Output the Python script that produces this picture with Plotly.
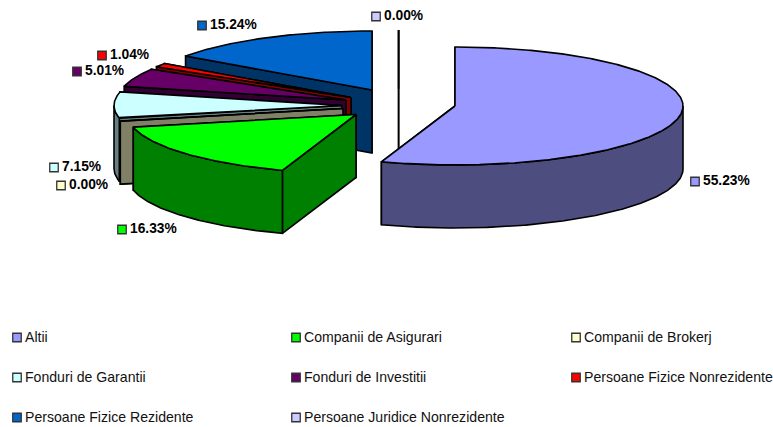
import numpy as np
import plotly.graph_objects as go

categories = ["Altii", "Companii de Asigurari", "Companii de Brokerj", "Fonduri de Garantii",
              "Fonduri de Investitii", "Persoane Fizice Nonrezidente",
              "Persoane Fizice Rezidente", "Persoane Juridice Nonrezidente"]
values = [55.23, 16.33, 0.00, 7.15, 5.01, 1.04, 15.24, 0.00]
top_colors = ["#9999FF", "#00FF00", "#FFFFCC", "#CCFFFF", "#660066", "#FF0000", "#0066CC", "#CCCCFF"]
side_colors = ["#4D4D80", "#008000", "#808066", "#668080", "#330033", "#800000", "#003366", "#666680"]

# layout of the exploded slices, in chart pixels
apex_x = [455, 356, 343, 342, 346, 351, 372, 398.6]
apex_y = [106, 114.5, 108.5, 105.5, 100, 97.5, 90, 89]
label_x = [695, 122, 61, 54, 77, 102, 202, 376]
label_y = [181.5, 229.5, 185.5, 167.5, 71.5, 55.5, 25.5, 16.5]
legend_x = [17, 296, 576, 17, 296, 576, 17, 296]
legend_y = [337.5, 337.5, 337.5, 377.5, 377.5, 377.5, 417.5, 417.5]
RX, RY, DEPTH = 228, 59, 63
LINE = dict(color="black", width=1.6)

fig = go.Figure()


def poly(xs, ys, color):
    fig.add_trace(go.Scatter(x=xs, y=ys, mode="lines", fill="toself", fillcolor=color,
                             line=LINE, hoverinfo="skip", showlegend=False))


def rim(cx, cy, a0, a1, dy=0.0):
    t = np.radians(np.linspace(a0, a1, max(2, int(abs(a1 - a0) * 2) + 2)))
    return cx + RX * np.sin(t), cy - RY * np.cos(t) + dy


ends = np.cumsum(values) * 3.6
starts = ends - np.array(values) * 3.6
# drawn back to front
order = [7, 6, 5, 4, 3, 2, 1, 0]
for i in order:
    a0, a1 = starts[i], ends[i]
    if i == 7:
        a0, a1 = 0.0, 0.0
    cx, cy = apex_x[i], apex_y[i]
    for a in (a1, a0):
        rx, ry = rim(cx, cy, a, a)
        poly([cx, rx[0], rx[0], cx, cx], [cy, ry[0], ry[0] + DEPTH, cy + DEPTH, cy], side_colors[i])
    w0, w1 = max(a0, 90), min(a1, 270)
    if w1 > w0:
        ux, uy = rim(cx, cy, w0, w1)
        lx, ly = rim(cx, cy, w1, w0, DEPTH)
        poly(np.r_[ux, lx, ux[0]], np.r_[uy, ly, uy[0]], side_colors[i])
    tx, ty = rim(cx, cy, a0, a1)
    poly(np.r_[cx, tx, cx], np.r_[cy, ty, cy], top_colors[i])


def swatches(xs, ys, texts, font):
    fig.add_trace(go.Scatter(
        x=xs, y=ys, mode="markers",
        marker=dict(symbol="square", size=8.5, color=top_colors, line=dict(color="#333333", width=1.3)),
        hoverinfo="skip", showlegend=False))
    fig.add_trace(go.Scatter(
        x=[x + 8 for x in xs], y=[y + 0.5 for y in ys], mode="text", text=texts, textposition="middle right",
        textfont=font, hoverinfo="skip", showlegend=False))


swatches(label_x, label_y, [f"{v:.2f}%" for v in values],
         dict(family="Liberation Sans", size=13.8, color="black", weight="bold"))
swatches(legend_x, legend_y, categories,
         dict(family="Liberation Sans", size=14.1, color="#111111"))

fig.update_layout(
    width=773, height=427, margin=dict(l=0, r=0, t=0, b=0),
    paper_bgcolor="white", plot_bgcolor="white", showlegend=False,
    xaxis=dict(range=[0, 773], visible=False, fixedrange=True),
    yaxis=dict(range=[427, 0], visible=False, fixedrange=True),
)
fig.write_html("out.html", config=dict(displayModeBar=False),
               post_script="document.body.style.margin='0';document.body.style.overflow='hidden';")
